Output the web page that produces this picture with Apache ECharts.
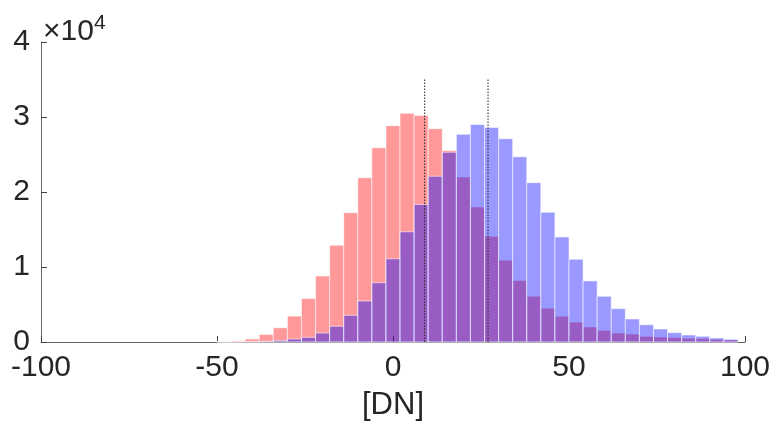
<!DOCTYPE html>
<html>
<head>
<meta charset="utf-8">
<script src="https://cdn.jsdelivr.net/npm/echarts@6/dist/echarts.min.js"></script>
<style>html,body{margin:0;padding:0;background:#fff;}#c{width:773px;height:423px;}</style>
</head>
<body>
<div id="c"></div>
<script>
// bin centres (DN), bin width 4
const binCenters = [-48,-44,-40,-36,-32,-28,-24,-20,-16,-12,-8,-4,0,4,8,12,16,20,24,28,32,36,40,44,48,52,56,60,64,68,72,76,80,84,88,92,96];
const binWidth = 4;
// counts
const redCounts = [50,150,400,1000,1900,3450,5800,8800,12900,17250,21900,25900,28850,30500,30200,28450,25550,22000,18000,14100,10900,8200,6100,4500,3430,2650,2000,1540,1200,1070,760,670,590,500,440,350,270];
const blueCounts = [0,0,30,80,200,400,620,1200,2100,3560,5470,7900,11100,14700,18350,22100,25300,27700,29000,28600,27100,24700,21250,17300,14000,11050,8150,6100,4450,3070,2300,1730,1250,930,760,530,360];
// dotted mean lines
const meanLines = [9, 27];
const meanTop = 35000;

const chart = echarts.init(document.getElementById('c'), null, {renderer: 'canvas'});
const font = 'Liberation Sans, Arial, Helvetica, sans-serif';
const txt = '#262626';

function histSeries(name, counts, fill, stroke) {
  return {
    name: name,
    type: 'custom',
    data: binCenters.map((c, i) => [c, counts[i]]),
    encode: {x: 0, y: 1},
    renderItem: function (params, api) {
      const c = api.value(0), v = api.value(1);
      const p0 = api.coord([c - binWidth / 2, v]);
      const p1 = api.coord([c + binWidth / 2, 0]);
      return {
        type: 'rect',
        shape: {x: p0[0], y: p0[1], width: p1[0] - p0[0], height: p1[1] - p0[1]},
        style: {fill: fill, stroke: stroke, lineWidth: 1}
      };
    },
    z: 2
  };
}

const series = [
  histSeries('red', redCounts, 'rgba(255,0,0,0.4)', 'rgba(255,255,255,0.55)'),
  histSeries('blue', blueCounts, 'rgba(0,0,255,0.4)', 'rgba(255,255,255,0.55)')
];
meanLines.forEach(m => {
  series.push({
    type: 'line',
    data: [[m, 0], [m, meanTop]],
    symbol: 'none',
    lineStyle: {color: '#222', width: 1, type: [1.5, 1.5]},
    z: 5,
    silent: true
  });
});

chart.setOption({
  animation: false,
  grid: {left: 41, right: 28, top: 42, bottom: 81, containLabel: false, outerBoundsMode: 'none'},
  xAxis: {
    type: 'value', min: -100, max: 100, interval: 50,
    name: '[DN]', nameLocation: 'middle', nameGap: 48,
    nameTextStyle: {fontFamily: font, fontSize: 31, color: txt},
    axisLine: {show: true, onZero: false, lineStyle: {color: '#666', width: 1}},
    axisTick: {show: true, inside: true, length: 6, lineStyle: {color: '#444'}},
    axisLabel: {fontFamily: font, fontSize: 30, color: txt, margin: 11},
    splitLine: {show: false}
  },
  yAxis: {
    type: 'value', min: 0, max: 40000, interval: 10000,
    axisLine: {show: true, onZero: false, lineStyle: {color: '#666', width: 1}},
    axisTick: {show: true, inside: true, length: 6, lineStyle: {color: '#444'}},
    axisLabel: {fontFamily: font, fontSize: 30, color: txt, margin: 11,
      formatter: v => String(v / 10000)},
    splitLine: {show: false}
  },
  graphic: [{
    type: 'text', left: 43, top: 13,
    style: {
      text: '×10{sup|4}',
      font: '30px ' + font,
      fill: txt,
      rich: {sup: {fontSize: 21, fontFamily: font, verticalAlign: 'top', padding: [0, 0, 16, 0], fill: txt}}
    }
  }],
  series: series
});
</script>
</body>
</html>
